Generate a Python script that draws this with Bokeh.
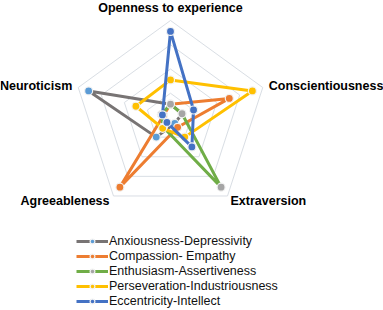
import math
from bokeh.plotting import figure
from bokeh.models import Range1d, Legend, LegendItem, ColumnDataSource
from bokeh.core.properties import value
from bokeh.embed import file_html
from bokeh.resources import INLINE

categories = ["Openness to experience", "Conscientiousness", "Extraversion",
              "Agreeableness", "Neuroticism"]
series_names = ["Anxiousness-Depressivity", "Compassion- Empathy",
                "Enthusiasm-Assertiveness", "Perseveration-Industriousness",
                "Eccentricity-Intellect"]
anxiousness = [0.11, 0.10, 0.06, 0.20, 0.71]
compassion = [0.11, 0.51, 0.10, 0.71, 0.06]
enthusiasm = [0.11, 0.10, 0.71, 0.10, 0.08]
perseveration = [0.31, 0.71, 0.20, 0.11, 0.30]
eccentricity = [0.71, 0.20, 0.30, 0.05, 0.07]
ring_levels = [0.2, 0.4, 0.6, 0.8]

line_colors = ["#787474", "#ED7D31", "#70AD47", "#FFC000", "#4472C4"]
marker_colors = ["#5B9BD5", "#ED7D31", "#A5A5A5", "#FFC000", "#4472C4"]
all_series = [anxiousness, compassion, enthusiasm, perseveration, eccentricity]

PX = 97 / 0.8  # pixels per data unit
CX, CY = 170, 117
W, H = 383, 310

angles = [math.radians(90 - 72 * i) for i in range(len(categories))]

def polar(vals):
    xs = [v * math.cos(a) for v, a in zip(vals, angles)]
    ys = [v * math.sin(a) for v, a in zip(vals, angles)]
    return xs, ys

p = figure(width=W, height=H, output_backend="svg", toolbar_location=None,
           x_range=Range1d(-CX / PX, (W - CX) / PX),
           y_range=Range1d(-(H - CY) / PX, CY / PX),
           min_border=0, x_axis_location=None, y_axis_location=None)
p.xgrid.visible = False
p.ygrid.visible = False
p.outline_line_color = None
p.background_fill_color = "white"

# grid rings
for lvl in ring_levels:
    xs, ys = polar([lvl] * len(categories))
    p.line(xs + xs[:1], ys + ys[:1], line_color="#D9DEE4", line_width=1)

items = []
for name, vals, lc, mc in zip(series_names, all_series, line_colors, marker_colors):
    xs, ys = polar(vals)
    lr = p.line(xs + xs[:1], ys + ys[:1], line_color=lc, line_width=3, line_join="round")
    sr = p.scatter(xs, ys, size=8, fill_color=mc, line_color="#F2F2F2", line_width=1.2)
    items.append(LegendItem(label=name, renderers=[lr, sr]))

# category labels
outer = ring_levels[-1]
lx, ly = polar([outer] * len(categories))
aligns = ["center", "left", "left", "right", "right"]
x_offs = [0, 6, 3, -4, -6]
y_offs = [-13, -2, 5, 5, -2]
src = ColumnDataSource(dict(x=lx, y=ly, t=categories, al=aligns, xo=x_offs, yo=y_offs))
p.text(x="x", y="y", text="t", source=src, text_align="al", text_baseline="middle",
       x_offset="xo", y_offset="yo", text_font=value("Liberation Sans"),
       text_font_style="bold", text_font_size="12.5px", text_color="#000000")

legend = Legend(items=items, location=(76, 2), orientation="vertical",
                label_text_font="Liberation Sans", label_text_font_size="12.5px",
                label_text_color="#111111", glyph_width=32, glyph_height=12,
                label_height=12, label_standoff=1, spacing=1, padding=0, margin=0,
                border_line_color=None, background_fill_alpha=0)
p.add_layout(legend, "center")

open("out.html", "w").write(file_html(p, INLINE))
